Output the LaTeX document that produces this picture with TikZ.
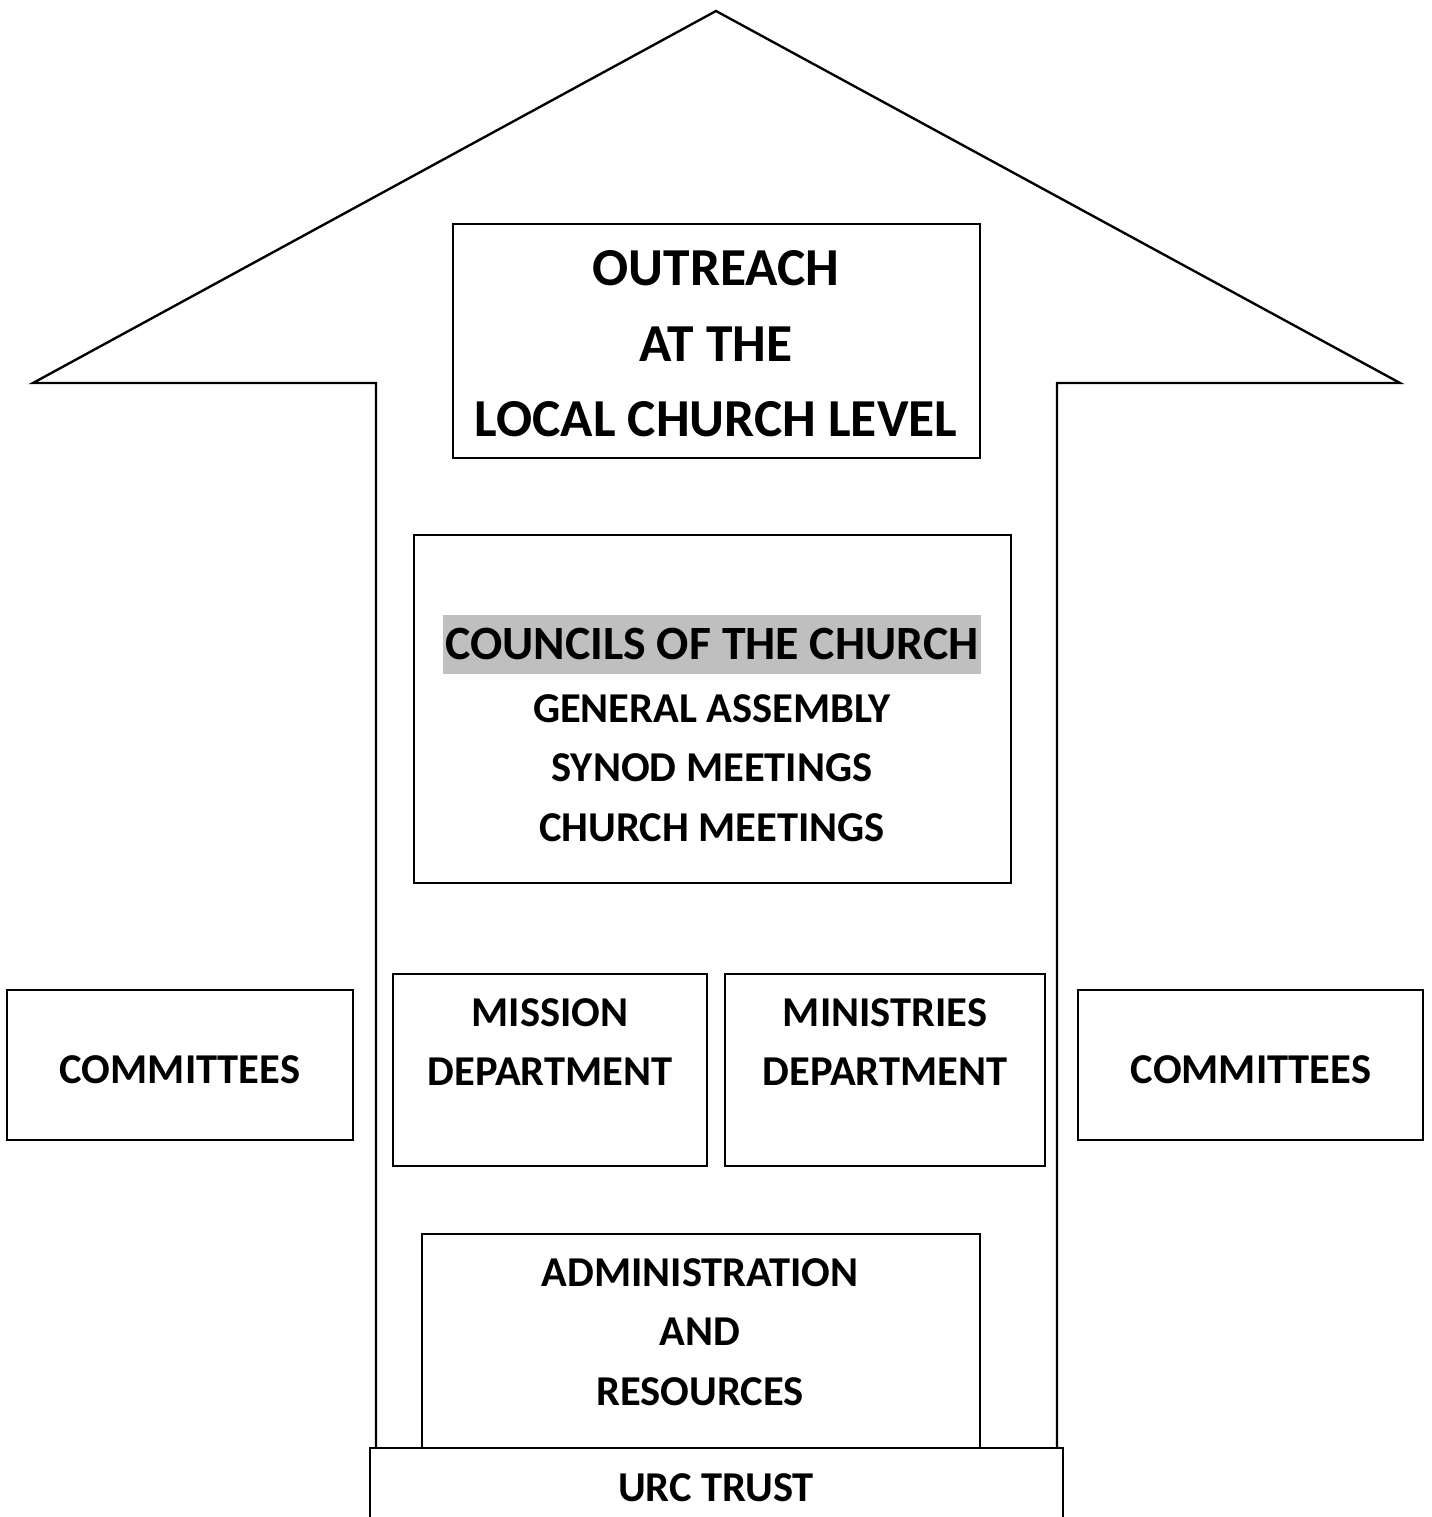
\documentclass[tikz,border=0pt]{standalone}
\usepackage{fontspec}
\setmainfont{Carlito}
\usetikzlibrary{fit}
\definecolor{shade}{gray}{0.75}
\tikzset{box/.style={draw,line width=1.25pt,inner sep=0pt},
 boxtext/.style={font=\bfseries\fontsize{24.2}{34}\selectfont,align=center},
 bigtext/.style={font=\bfseries\fontsize{30.4}{43}\selectfont,align=center},
 }

\begin{document}
\begin{tikzpicture}[x=0.02cm,y=-0.02cm]
        \useasboundingbox (0,0) rectangle (1432,1517);
        \draw[line width=1.35pt] (376,1448) -- (376,383) -- (33,383) -- (716,11)
            -- (1400,383) -- (1057,383) -- (1057,1448);
        \node[box, fit={(453,224) (980,458)}] (outreach) {};
        \node[bigtext] (outreachtext) at (716,344) {OUTREACH\\AT THE\\LOCAL CHURCH LEVEL};
        \node[box, fit={(414,535) (1011,883)}] (councils) {};
        \node[font=\bfseries\fontsize{27.2}{34}\selectfont, fill=shade, inner xsep=1.5pt,
            minimum height=59*0.02cm] (councilstitle) at (712,644) {COUNCILS OF THE CHURCH};
        \node[boxtext] (councilstext) at (712,768) {GENERAL ASSEMBLY\\SYNOD MEETINGS\\CHURCH MEETINGS};
        \node[box, fit={(7,990) (353,1140)}] (leftcomm) {};
        \node[boxtext] (leftcommtext) at (180,1070) {COMMITTEES};
        \node[box, fit={(393,974) (707,1166)}] (mission) {};
        \node[boxtext] (missiontext) at (550,1042) {MISSION\\DEPARTMENT};
        \node[box, fit={(725,974) (1045,1166)}] (ministries) {};
        \node[boxtext] (ministriestext) at (885,1042) {MINISTRIES\\DEPARTMENT};
        \node[box, fit={(1078,990) (1423,1140)}] (rightcomm) {};
        \node[boxtext] (rightcommtext) at (1251,1070) {COMMITTEES};
        \node[box, fit={(422,1234) (980,1448)}] (admin) {};
        \node[boxtext] (admintext) at (700,1332) {ADMINISTRATION\\AND\\RESOURCES};
        \node[box, line width=1.6pt, fill=white, fit={(370,1448) (1063,1560)}] (trust) {};
        \node[boxtext] (trusttext) at (716,1488) {URC TRUST};
    \end{tikzpicture}
\end{document}
